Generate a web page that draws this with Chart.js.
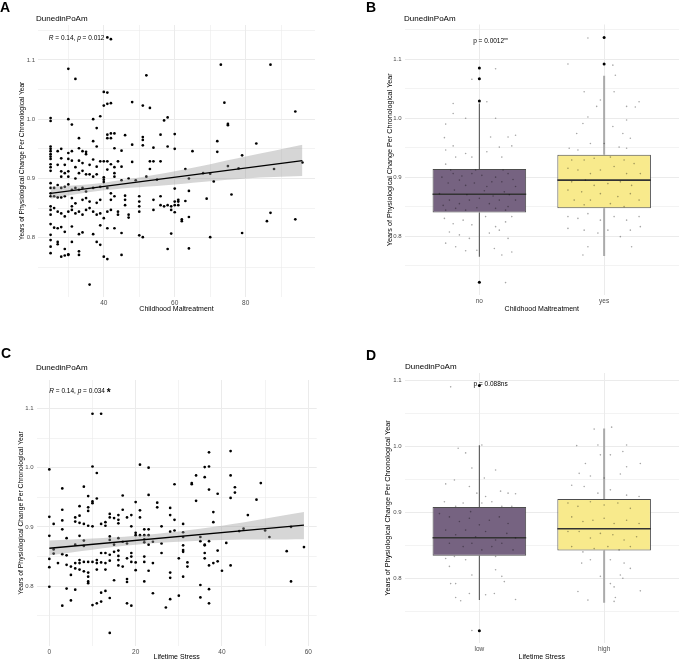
<!DOCTYPE html>
<html>
<head>
<meta charset="utf-8">
<title>DunedinPoAm</title>
<script src="https://cdn.jsdelivr.net/npm/chart.js@4.4.1/dist/chart.umd.min.js"></script>
<style>
  body { margin: 0; width: 683px; height: 660px; overflow: hidden; background: #fff; position: relative; font-family: 'Liberation Sans', Arial, sans-serif; }
  canvas { position: absolute; }
  .tag { position: absolute; font-size: 14px; font-weight: bold; line-height: 1; color: #000; }
  .ttl { position: absolute; font-size: 8px; line-height: 1; color: #000; }
</style>
</head>
<body>
<canvas id="panelA" width="340" height="330" style="left:0;top:0"></canvas>
<canvas id="panelB" width="343" height="330" style="left:340px;top:0"></canvas>
<canvas id="panelC" width="340" height="340" style="left:0;top:330px"></canvas>
<canvas id="panelD" width="343" height="340" style="left:340px;top:330px"></canvas>
<div class="tag" style="left:0;top:0">A</div>
<div class="tag" style="left:366px;top:0">B</div>
<div class="tag" style="left:1px;top:346px">C</div>
<div class="tag" style="left:366px;top:348px">D</div>
<div class="ttl" style="left:36px;top:15px">DunedinPoAm</div>
<div class="ttl" style="left:404px;top:15px">DunedinPoAm</div>
<div class="ttl" style="left:36px;top:364px">DunedinPoAm</div>
<div class="ttl" style="left:405px;top:363px">DunedinPoAm</div>
<script>
// ---- panel A: childhood maltreatment vs pace of aging
var maltX = [41,42,30,32,52,40,41,40,41,42,48,51,53,39,37,25,25,30,31,57,58,38,41,42,43,41,42,46,51,51,56,60,33,37,48,51,54,58,
  25,25,25,25,25,25,27,28,30,31,33,34,35,35,38,43,45,60,
  28,30,31,33,34,37,39,40,41,42,44,48,53,54,56,
  25,25,25,27,29,32,36,38,41,43,45,53,
  28,29,30,33,34,35,28,30,32,36,37,38,40,40,40,43,43,45,47,49,52,55,
  25,25,25,26,27,28,29,30,31,32,33,34,35,37,39,41,42,
  25,26,27,28,29,31,32,34,35,36,38,39,42,43,46,46,46,50,50,50,54,56,56,58,59,60,61,
  25,25,25,26,27,28,29,30,31,31,32,33,34,35,36,37,38,39,40,41,42,44,44,47,47,50,54,57,59,61,
  25,26,27,28,29,31,33,34,37,39,41,43,45,
  25,25,25,25,27,27,29,30,31,28,29,30,33,33,38,39,40,41,45,50,51,58,59,36,
  73,87,74,94,75,75,72,83,65,72,79,75,78,88,96,63,64,68,70,71,60,64,61,63,69,76,60,60,62,62,64,86,87,94,70,79,64];
var maltY = [1.138,1.135,1.085,1.068,1.074,1.046,1.045,1.023,1.026,1.027,1.029,1.023,1.019,1.005,1.0,1.002,0.997,1.0,0.991,0.998,1.003,0.985,0.974,0.976,0.976,0.968,0.968,0.973,0.97,0.965,0.974,0.975,0.968,0.963,0.957,0.956,0.952,0.954,
  0.954,0.95,0.946,0.941,0.937,0.933,0.946,0.95,0.943,0.946,0.951,0.946,0.945,0.941,0.954,0.951,0.947,0.95,
  0.934,0.933,0.93,0.93,0.926,0.932,0.929,0.929,0.929,0.924,0.929,0.928,0.929,0.929,0.929,
  0.924,0.919,0.913,0.923,0.923,0.919,0.923,0.92,0.915,0.919,0.92,0.916,
  0.912,0.909,0.912,0.909,0.913,0.907,0.903,0.903,0.9,0.907,0.903,0.907,0.902,0.898,0.894,0.909,0.903,0.897,0.9,0.897,0.903,0.898,
  0.892,0.884,0.875,0.884,0.889,0.884,0.886,0.89,0.881,0.884,0.881,0.884,0.878,0.884,0.886,0.884,0.875,
  0.87,0.87,0.868,0.868,0.87,0.867,0.858,0.864,0.867,0.861,0.859,0.864,0.864,0.87,0.871,0.864,0.855,0.87,0.861,0.853,0.864,0.87,0.855,0.855,0.853,0.861,0.864,
  0.853,0.847,0.839,0.85,0.844,0.841,0.836,0.844,0.853,0.847,0.841,0.844,0.839,0.847,0.85,0.844,0.839,0.841,0.833,0.844,0.847,0.844,0.839,0.839,0.834,0.844,0.847,0.853,0.847,0.855,
  0.823,0.817,0.816,0.818,0.81,0.819,0.806,0.809,0.806,0.821,0.816,0.816,0.808,
  0.805,0.796,0.785,0.774,0.793,0.789,0.781,0.772,0.793,0.768,0.77,0.771,0.777,0.771,0.793,0.788,0.768,0.764,0.771,0.804,0.801,0.781,0.807,0.721,
  1.092,1.092,1.028,1.013,0.992,0.99,0.963,0.959,0.946,0.945,0.939,0.921,0.917,0.916,0.927,0.916,0.9,0.909,0.908,0.895,0.883,0.879,0.861,0.862,0.866,0.873,0.855,0.843,0.831,0.828,0.835,0.828,0.842,0.831,0.801,0.808,0.782];
var maltFitX = [25, 96];
var maltFitY = [0.875, 0.930];
var maltBandX = [25, 40, 60, 80, 96];
var maltBandHi = [0.886, 0.893, 0.912, 0.937, 0.957];
var maltBandLo = [0.866, 0.880, 0.890, 0.900, 0.904];

// ---- panel C: lifetime stress vs pace of aging
var stressX = [10,12,0,10,11,21,23,3,8,9,10,10,11,17,23,29,7,9,9,3,0,3,1,6,7,6,7,8,9,10,12,13,13,14,14,15,16,16,16,17,18,19,20,21,21,25,25,28,28,26,29,
  0,3,4,7,1,1,3,6,8,8,14,14,17,19,20,20,21,22,23,22,23,22,22,23,24,16,15,18,
  0,0,2,4,4,5,6,6,7,7,8,9,9,9,9,9,10,11,11,11,12,12,13,14,14,15,16,16,16,16,5,8,7,13,13,17,18,19,19,19,20,20,15,18,18,22,22,24,22,23,26,26,28,28,28,
  0,4,6,12,13,24,5,3,10,11,12,14,18,19,27,28,14,
  37,42,36,37,34,36,42,33,33,49,37,43,43,39,42,48,34,38,38,46,31,29,31,31,35,35,36,36,37,41,44,45,50,51,56,31,31,31,36,39,30,32,32,36,38,39,37,40,42,55,59,31,35,37,56,30,35,37];
var stressY = [1.091,1.091,0.997,1.002,0.991,1.005,1.0,0.965,0.968,0.952,0.943,0.94,0.948,0.953,0.954,0.972,0.935,0.933,0.927,0.929,0.917,0.911,0.905,0.916,0.919,0.909,0.907,0.905,0.902,0.901,0.905,0.908,0.902,0.922,0.916,0.915,0.92,0.912,0.906,0.929,0.916,0.92,0.942,0.928,0.916,0.941,0.933,0.932,0.92,0.901,0.912,
  0.885,0.896,0.881,0.885,0.862,0.855,0.854,0.87,0.877,0.868,0.884,0.878,0.875,0.901,0.89,0.886,0.886,0.886,0.886,0.896,0.896,0.879,0.874,0.87,0.875,0.881,0.87,0.872,
  0.846,0.832,0.839,0.852,0.836,0.833,0.839,0.83,0.844,0.839,0.841,0.841,0.823,0.816,0.808,0.805,0.841,0.844,0.839,0.828,0.856,0.84,0.856,0.853,0.843,0.858,0.86,0.851,0.844,0.835,0.819,0.825,0.828,0.839,0.828,0.833,0.847,0.856,0.85,0.841,0.84,0.827,0.81,0.812,0.807,0.85,0.841,0.839,0.808,0.826,0.872,0.856,0.892,0.823,0.814,
  0.799,0.796,0.794,0.789,0.792,0.788,0.776,0.767,0.768,0.771,0.774,0.78,0.771,0.767,0.764,0.778,0.721,
  1.026,1.028,1.001,1.002,0.987,0.984,0.987,0.974,0.972,0.974,0.963,0.967,0.958,0.956,0.949,0.946,0.944,0.925,0.908,0.92,0.905,0.894,0.891,0.883,0.883,0.876,0.87,0.869,0.876,0.873,0.893,0.897,0.894,0.883,0.9,0.869,0.861,0.858,0.856,0.86,0.847,0.84,0.833,0.847,0.839,0.842,0.835,0.826,0.835,0.859,0.866,0.816,0.802,0.795,0.808,0.784,0.781,0.771];
var stressFitX = [0, 59];
var stressFitY = [0.864, 0.903];
var stressBandX = [0, 20, 40, 59];
var stressBandHi = [0.877, 0.885, 0.902, 0.925];
var stressBandLo = [0.852, 0.870, 0.878, 0.879];

// ---- panel B: maltreatment groups
var maltGroups = ['no', 'yes'];
var maltQ1 = [0.840, 0.847], maltMed = [0.871, 0.895], maltQ3 = [0.914, 0.938];
var maltLo = [0.765, 0.766], maltHi = [1.025, 1.072];
var maltOutG = [0, 0, 0, 0, 1, 1];
var maltOutY = [1.085, 1.067, 1.029, 0.7215, 1.092, 1.137];
var maltNoJit = [-0.21,-0.11,-0.27,0.13,0.06,0.13,-0.06,-0.28,-0.21,-0.27,-0.19,-0.11,-0.06,0.06,0.16,0.26,0.29,0.23,0.09,0.18,-0.27,-0.21,-0.16,-0.11,-0.06,-0.03,0.02,0.06,0.13,0.18,0.23,0.29,-0.32,-0.24,-0.16,-0.08,0,0.08,0.16,0.23,0.29,-0.27,-0.19,-0.11,0.13,0.21,-0.28,-0.21,-0.13,-0.06,0.05,0.13,0.21,0.26,-0.24,-0.16,-0.08,0.08,0.16,0.23,-0.27,-0.19,-0.11,-0.02,0.12,0.18,0.26,0.21,-0.21,-0.3,-0.25,-0.2,-0.14,-0.04,0.04,0.1,0.2,0.27,-0.29,-0.1,0.11,0.24,-0.02,0.19,-0.23];
var maltNoVal = [1.025,1.0,0.99,1.0,1.028,1.084,1.066,0.967,0.953,0.946,0.934,0.94,0.934,0.943,0.951,0.953,0.971,0.968,0.968,0.934,0.922,0.906,0.895,0.886,0.906,0.912,0.903,0.884,0.9,0.892,0.906,0.884,0.872,0.861,0.855,0.861,0.864,0.855,0.861,0.85,0.861,0.844,0.847,0.844,0.847,0.844,0.83,0.821,0.827,0.819,0.833,0.816,0.824,0.833,0.807,0.802,0.796,0.805,0.81,0.796,0.788,0.782,0.775,0.776,0.779,0.768,0.773,0.721,1.008,0.9,0.89,0.878,0.902,0.89,0.877,0.892,0.875,0.896,0.852,0.87,0.868,0.87,0.848,0.912,0.912];
var maltYesJit = [-0.13,-0.29,0.07,0.09,-0.16,0.08,-0.03,0.28,0.18,-0.06,-0.13,0.25,-0.17,0.07,0.18,-0.22,0.15,0.21,-0.11,-0.28,-0.21,0,0.12,0.18,-0.26,-0.16,-0.08,0.05,0.16,0.24,-0.29,-0.21,-0.11,-0.03,0.08,0.18,0.29,-0.26,-0.15,-0.08,0.03,0.13,0.22,-0.29,-0.18,-0.11,-0.03,0.11,0.21,0.28,-0.24,-0.16,0.05,0.16,-0.29,-0.21,-0.13,-0.03,0.08,0.18,0.28,-0.29,-0.16,-0.05,0.03,0.13,0.21,0.29,-0.13,-0.17,0.22];
var maltYesVal = [1.136,1.092,1.09,1.073,1.045,1.045,1.031,1.028,1.02,1.02,1.002,1.019,0.991,0.986,0.997,0.974,0.974,0.966,0.957,0.949,0.946,0.957,0.951,0.949,0.929,0.929,0.932,0.934,0.929,0.923,0.915,0.912,0.906,0.912,0.918,0.906,0.906,0.892,0.895,0.886,0.889,0.892,0.886,0.878,0.875,0.861,0.872,0.867,0.872,0.861,0.861,0.853,0.855,0.85,0.833,0.83,0.838,0.827,0.833,0.827,0.833,0.813,0.81,0.805,0.81,0.799,0.81,0.816,0.782,0.768,0.782];

// ---- panel D: lifetime stress groups
var stressGroups = ['low', 'high'];
var stressQ1 = [0.834, 0.842], stressMed = [0.8615, 0.875], stressQ3 = [0.908, 0.920];
var stressLo = [0.767, 0.763], stressHi = [1.0015, 1.027];
var stressOutG = [0, 0];
var stressOutY = [1.092, 0.7207];
var stressLowJit = [-0.23,-0.17,-0.11,0.02,-0.06,0.04,0.13,-0.27,-0.2,-0.08,-0.02,0.05,0.17,0.23,0.29,-0.28,-0.19,-0.13,-0.07,0.02,0.1,0.18,0.26,-0.32,-0.24,-0.16,-0.08,0,0.08,0.16,0.23,-0.27,-0.19,-0.11,-0.03,0.05,0.13,0.22,0.29,-0.24,-0.13,-0.06,0.02,0.1,0.18,0.27,-0.27,-0.2,-0.11,0.13,-0.24,-0.06,0.13,0.18,0.2,-0.23,-0.19,-0.08,0.05,0.12,-0.19,-0.15,0.29,-0.06];
var stressLowVal = [1.09,0.997,0.99,1.002,0.967,0.952,0.964,0.943,0.949,0.939,0.929,0.924,0.932,0.929,0.928,0.916,0.909,0.914,0.901,0.914,0.916,0.909,0.909,0.898,0.893,0.886,0.891,0.881,0.888,0.893,0.883,0.873,0.866,0.873,0.863,0.871,0.858,0.868,0.861,0.853,0.848,0.853,0.843,0.848,0.853,0.843,0.83,0.833,0.828,0.833,0.818,0.805,0.813,0.803,0.795,0.792,0.792,0.777,0.775,0.777,0.771,0.766,0.768,0.721];
var stressHighJit = [-0.08,0.06,-0.22,-0.05,0.18,0.15,-0.15,-0.03,0.05,0.29,-0.2,-0.11,0,0.13,0.18,-0.26,-0.16,-0.05,0.05,0.18,0.28,-0.29,-0.21,-0.11,0,0.11,0.21,-0.26,-0.17,-0.09,0,0.08,0.18,0.28,-0.29,-0.2,-0.11,-0.03,0.07,0.16,0.26,-0.26,-0.17,-0.08,0.03,0.12,0.21,-0.18,-0.11,0.05,0.16,0.21,0.13,-0.03,0.15,0.05,0.08,-0.21,0.29,-0.13,0.09,0.08];
var stressHighVal = [1.026,1.029,1.001,1.002,1.002,0.992,0.974,0.987,0.987,0.974,0.959,0.955,0.952,0.958,0.969,0.941,0.939,0.929,0.934,0.926,0.924,0.914,0.909,0.916,0.911,0.914,0.906,0.893,0.886,0.888,0.891,0.883,0.888,0.883,0.871,0.871,0.861,0.868,0.866,0.858,0.863,0.848,0.84,0.845,0.848,0.843,0.848,0.823,0.828,0.828,0.823,0.815,0.805,0.803,0.8,0.792,0.787,0.78,0.781,0.767,0.771,0.765];

var ticksYAB = [0.75, 0.8, 0.85, 0.9, 0.95, 1.0, 1.05, 1.1, 1.15];
var ticksYCD = [0.75, 0.8, 0.85, 0.9, 0.95, 1.0, 1.05, 1.1];
var ticksXA = [30, 40, 50, 60, 70, 80, 90];
var ticksXC = [0, 10, 20, 30, 40, 50, 60];

var FONT = "'Liberation Sans', Arial, sans-serif";
var GRID = '#ebebeb';
var YTITLE = 'Years of Physiological Change Per Chronological Year';
var BOX_HALF = 0.375;
var BOX_FILL = ['#766381', '#f8ea8c'];
var WHISKER = ['#555555', '#aaaaaa'];
var WHISKER_W = [1.1, 2];

function pts(xs, ys) { return xs.map(function (x, i) { return {x: x, y: ys[i]}; }); }
function isMajorY(v) { return Math.round(v * 100) % 10 === 0; }

// text notes drawn in data coordinates
var notes = {
  id: 'notes',
  afterDatasetsDraw: function (chart, args, o) {
    if (!o.runs) return;
    var ctx = chart.ctx;
    var px = chart.scales.x.getPixelForValue(o.x), py = chart.scales.y.getPixelForValue(o.y);
    ctx.save();
    ctx.textBaseline = 'middle';
    ctx.fillStyle = '#000';
    var w = 0;
    o.runs.forEach(function (r) { ctx.font = r.f; w += ctx.measureText(r.t).width; });
    if (o.center) px -= w / 2;
    o.runs.forEach(function (r) {
      ctx.font = r.f;
      ctx.fillText(r.t, px, py + (r.dy || 0));
      px += ctx.measureText(r.t).width;
    });
    ctx.restore();
  }
};

function yAxis(min, max, ticks, w, size) {
  return {
    type: 'linear', min: min, max: max,
    afterBuildTicks: function (s) { s.ticks = ticks.map(function (v) { return {value: v}; }); },
    afterFit: function (s) { s.width = w; },
    border: {display: false},
    grid: {color: GRID, drawTicks: false, lineWidth: function (c) { return c.tick && isMajorY(c.tick.value) ? 1 : 0.6; }},
    ticks: {padding: 3, autoSkip: false, color: '#4d4d4d', font: {family: FONT, size: 6},
      callback: function (v) { return isMajorY(v) ? v.toFixed(1) : ''; }},
    title: {display: true, text: YTITLE, color: '#000', font: {family: FONT, size: size}, padding: 0}
  };
}

function xAxis(min, max, ticks, h, label, title, isMajor) {
  return {
    type: 'linear', min: min, max: max, offset: false,
    afterBuildTicks: function (s) { s.ticks = ticks.map(function (v) { return {value: v}; }); },
    afterFit: function (s) { s.height = h; },
    border: {display: false},
    grid: {color: GRID, drawTicks: false, offset: false, lineWidth: function (c) { return c.tick && isMajor(c.tick.value) ? 1 : 0.6; }},
    ticks: {padding: 2, autoSkip: false, maxRotation: 0, color: '#4d4d4d', font: {family: FONT, size: 6.5}, callback: label},
    title: {display: true, text: title, color: '#000', font: {family: FONT, size: 7}, padding: 0}
  };
}

function scatterPanel(id, p) {
  return new Chart(document.getElementById(id), {
    type: 'scatter',
    data: {datasets: [
      {type: 'line', data: pts(p.fitX, p.fitY), borderColor: '#000', borderWidth: 1.3, pointRadius: 0, fill: false},
      {type: 'line', data: pts(p.bandX, p.bandHi), borderColor: 'transparent', pointRadius: 0, tension: 0.35, fill: '+1', backgroundColor: 'rgba(153,153,153,0.4)'},
      {type: 'line', data: pts(p.bandX, p.bandLo), borderColor: 'transparent', pointRadius: 0, tension: 0.35, fill: false},
      {data: pts(p.x, p.y), pointRadius: 1.35, backgroundColor: '#000', borderWidth: 0}
    ]},
    options: {
      responsive: false, animation: false, devicePixelRatio: 1,
      layout: {padding: p.pad},
      plugins: {legend: {display: false}, tooltip: {enabled: false}, notes: p.note},
      scales: {x: p.xs, y: p.ys}
    },
    plugins: [notes]
  });
}

function boxPanel(id, p) {
  var ds = [];
  ds.push({type: 'scatter', data: pts(p.jitA, p.valA).concat(pts(p.jitB.map(function (d) { return 1 + d; }), p.valB)),
    pointRadius: 0.8, backgroundColor: 'rgba(0,0,0,0.35)', borderWidth: 0});
  ds.push({type: 'scatter', data: pts(p.outG, p.outY), pointRadius: 1.5, backgroundColor: '#000', borderWidth: 0});
  [0, 1].forEach(function (g) {
    ds.push({type: 'line', data: [{x: g - BOX_HALF, y: p.med[g]}, {x: g + BOX_HALF, y: p.med[g]}],
      borderColor: '#333333', borderWidth: 1.6, pointRadius: 0, fill: false});
  });
  ds.push({type: 'bar', data: [0, 1].map(function (g) { return {x: g, y: [p.q1[g], p.q3[g]]}; }),
    backgroundColor: BOX_FILL, borderColor: '#4d4d4d', borderWidth: 1, borderSkipped: false,
    barPercentage: 0.75, categoryPercentage: 1});
  [0, 1].forEach(function (g) {
    ds.push({type: 'line', data: [{x: g, y: p.hi[g]}, {x: g, y: p.q3[g]}, {x: g, y: null}, {x: g, y: p.q1[g]}, {x: g, y: p.lo[g]}],
      borderColor: WHISKER[g], borderWidth: WHISKER_W[g], pointRadius: 0, fill: false, spanGaps: false});
  });
  return new Chart(document.getElementById(id), {
    type: 'bar',
    data: {datasets: ds},
    options: {
      responsive: false, animation: false, devicePixelRatio: 1,
      layout: {padding: p.pad},
      plugins: {legend: {display: false}, tooltip: {enabled: false}, notes: p.note},
      scales: {x: p.xs, y: p.ys}
    },
    plugins: [notes]
  });
}

var small = '6.5px ' + FONT, ital = 'italic 6.5px ' + FONT;

scatterPanel('panelA', {
  x: maltX, y: maltY, fitX: maltFitX, fitY: maltFitY, bandX: maltBandX, bandHi: maltBandHi, bandLo: maltBandLo,
  pad: {left: 18, top: 25, right: 25, bottom: 16.7},
  xs: xAxis(21.45, 99.55, ticksXA, 16.3, function (v) { return v % 20 === 0 ? String(v) : ''; }, 'Childhood Maltreatment', function (v) { return v % 20 === 0; }),
  ys: yAxis(0.700, 1.159, ticksYAB, 20, 6.6),
  note: {x: 24.5, y: 1.137, runs: [{t: 'R', f: ital}, {t: ' = 0.14, ', f: small}, {t: 'p', f: ital}, {t: ' = 0.012', f: small}]}
});

boxPanel('panelB', {
  jitA: maltNoJit, valA: maltNoVal, jitB: maltYesJit, valB: maltYesVal,
  outG: maltOutG, outY: maltOutY, q1: maltQ1, med: maltMed, q3: maltQ3, lo: maltLo, hi: maltHi,
  pad: {left: 45.8, top: 24.5, right: 0.5, bottom: 16.7},
  xs: xAxis(-0.6, 1.6, [0, 1], 18.3, function (v) { return maltGroups[v]; }, 'Childhood Maltreatment', function () { return true; }),
  ys: yAxis(0.700, 1.159, ticksYAB, 18.7, 7.2),
  note: {x: 0.09, y: 1.13, center: true, runs: [{t: 'p = 0.0012', f: small}, {t: '**', f: '5px ' + FONT, dy: -1}]}
});

scatterPanel('panelC', {
  x: stressX, y: stressY, fitX: stressFitX, fitY: stressFitY, bandX: stressBandX, bandHi: stressBandHi, bandLo: stressBandLo,
  pad: {left: 17.4, top: 50, right: 23.3, bottom: 8.3},
  xs: xAxis(-2.95, 61.95, ticksXC, 15.7, function (v) { return v % 20 === 0 ? String(v) : ''; }, 'Lifetime Stress', function (v) { return v % 20 === 0; }),
  ys: yAxis(0.699, 1.148, ticksYCD, 19.2, 6.8),
  note: {x: 0, y: 1.129, runs: [{t: 'R', f: ital}, {t: ' = 0.14, ', f: small}, {t: 'p', f: ital}, {t: ' = 0.034 ', f: small}, {t: '*', f: 'bold 10px ' + FONT, dy: 1.5}]}
});

boxPanel('panelD', {
  jitA: stressLowJit, valA: stressLowVal, jitB: stressHighJit, valB: stressHighVal,
  outG: stressOutG, outY: stressOutY, q1: stressQ1, med: stressMed, q3: stressQ3, lo: stressLo, hi: stressHi,
  pad: {left: 43.8, top: 43, right: 0.5, bottom: 9},
  xs: xAxis(-0.6, 1.6, [0, 1], 18, function (v) { return stressGroups[v]; }, 'Lifetime Stress', function () { return true; }),
  ys: yAxis(0.702, 1.111, ticksYCD, 20.7, 7.3),
  note: {x: 0.09, y: 1.094, center: true, runs: [{t: 'p = 0.088ns', f: small}]}
});
</script>
</body>
</html>
